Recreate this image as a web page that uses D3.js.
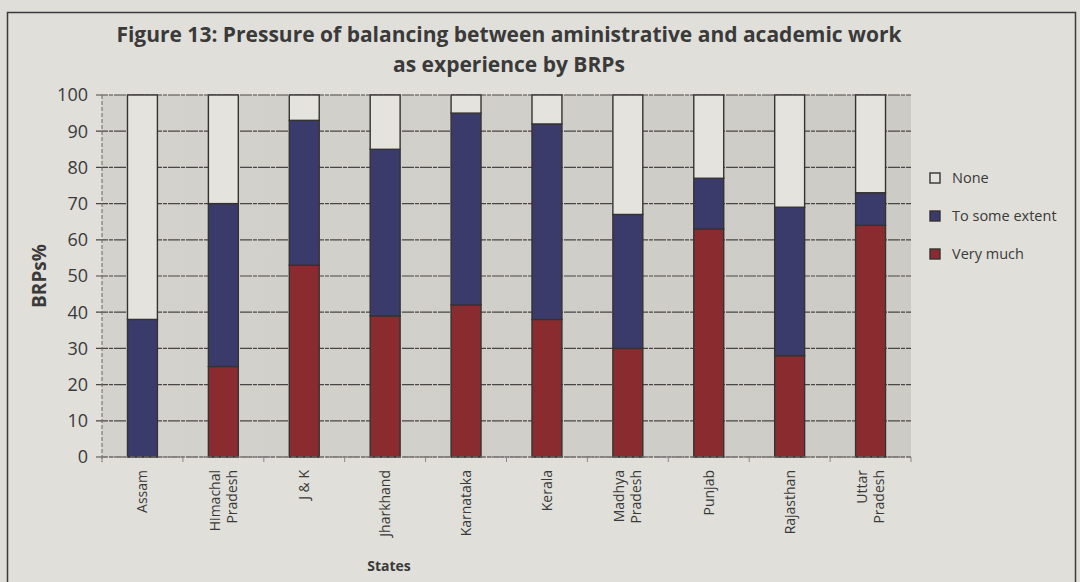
<!DOCTYPE html>
<html>
<head>
<meta charset="utf-8">
<script src="https://cdn.jsdelivr.net/npm/d3@7"></script>
<style>
  html, body { margin: 0; padding: 0; background: #dfded8; }
  svg { display: block; }
  text { font-family: "Open Sans", "Noto Sans", sans-serif; fill: #3a3a3a; }
</style>
</head>
<body>
<svg id="chart" width="1080" height="582"></svg>
<script>
// Share of BRPs (%) by state and response
const states = ["Assam", "Himachal Pradesh", "J & K", "Jharkhand", "Karnataka", "Kerala",
                "Madhya Pradesh", "Punjab", "Rajasthan", "Uttar Pradesh"];
const labelLines = [["Assam"], ["Himachal", "Pradesh"], ["J & K"], ["Jharkhand"], ["Karnataka"],
                    ["Kerala"], ["Madhya", "Pradesh"], ["Punjab"], ["Rajasthan"], ["Uttar", "Pradesh"]];
const veryMuch     = [0, 25, 53, 39, 42, 38, 30, 63, 28, 64];
const toSomeExtent = [38, 45, 40, 46, 53, 54, 37, 14, 41, 9];
const none         = [62, 30, 7, 15, 5, 8, 33, 23, 31, 27];
const seriesNames  = ["Very much", "To some extent", "None"];
const yTicks = [0, 10, 20, 30, 40, 50, 60, 70, 80, 90, 100];

const colors = { "Very much": "#8a2c2f", "To some extent": "#3b3b6b", "None": "#e4e3de" };

const svg = d3.select("#chart");

// outer frame
svg.append("rect").attr("x", 7.5).attr("y", 12.5).attr("width", 1068).attr("height", 580)
  .attr("fill", "#e0dfd9").attr("stroke", "#3c3a3a").attr("stroke-width", 1.5);

const plot = { left: 102, right: 911, top: 95, bottom: 457 };

const x = d3.scaleBand().domain(states).range([plot.left, plot.right]).paddingInner(0.63).paddingOuter(0.315);
const y = d3.scaleLinear().domain([0, 100]).range([plot.bottom, plot.top]);

// plot area background
const defs = svg.append("defs");
const bg = defs.append("linearGradient").attr("id", "bg").attr("x1", 0).attr("x2", 1).attr("y1", 0).attr("y2", 0);
bg.append("stop").attr("offset", "0%").attr("stop-color", "#d3d2cd");
bg.append("stop").attr("offset", "100%").attr("stop-color", "#cccbc6");
svg.append("rect").attr("x", plot.left).attr("y", plot.top)
  .attr("width", plot.right - plot.left).attr("height", plot.bottom - plot.top)
  .attr("fill", "url(#bg)");

// gridlines
svg.append("g").selectAll("line").data(yTicks).join("line")
  .attr("x1", plot.left - 6).attr("x2", plot.right)
  .attr("y1", d => y(d)).attr("y2", d => y(d))
  .attr("stroke", "#4a4646").attr("stroke-width", 1.2).attr("stroke-dasharray", "12,1,4,1");

// left axis line
svg.append("line").attr("x1", plot.left).attr("x2", plot.left)
  .attr("y1", plot.top).attr("y2", plot.bottom + 5)
  .attr("stroke", "#6a6666").attr("stroke-width", 1).attr("stroke-dasharray", "4,2");

// y tick labels
svg.append("g").selectAll("text").data(yTicks).join("text")
  .attr("x", 88).attr("y", d => y(d)).attr("dy", "0.35em")
  .attr("text-anchor", "end").attr("font-size", 18).text(d => d);

// stacked bars
const rows = states.map((s, i) => ({ state: s, "Very much": veryMuch[i], "To some extent": toSomeExtent[i], "None": none[i] }));
const stack = d3.stack().keys(seriesNames)(rows);
svg.append("g").selectAll("g").data(stack).join("g")
  .attr("fill", d => colors[d.key])
  .selectAll("rect").data(d => d).join("rect")
  .attr("x", d => x(d.data.state))
  .attr("width", x.bandwidth())
  .attr("y", d => y(d[1]))
  .attr("height", d => y(d[0]) - y(d[1]))
  .attr("stroke", "#353232").attr("stroke-width", 1.4);

// x axis line and ticks at category boundaries
svg.append("line").attr("x1", plot.left).attr("x2", plot.right)
  .attr("y1", plot.bottom).attr("y2", plot.bottom)
  .attr("stroke", "#7a7676").attr("stroke-width", 1).attr("stroke-dasharray", "5,2");
const step = x.step();
svg.append("g").selectAll("line").data(d3.range(states.length + 1)).join("line")
  .attr("x1", i => plot.left + i * step).attr("x2", i => plot.left + i * step)
  .attr("y1", plot.bottom).attr("y2", plot.bottom + 5)
  .attr("stroke", "#8a8686").attr("stroke-width", 1);

// category labels, rotated
const xl = svg.append("g").selectAll("text").data(states).join("text")
  .attr("transform", d => `translate(${x(d) + x.bandwidth() / 2},470) rotate(-90)`)
  .attr("text-anchor", "end").attr("font-size", 14).attr("fill", "#444");
xl.each(function (d, i) {
  const lines = labelLines[i];
  const n = lines.length;
  d3.select(this).selectAll("tspan").data(lines).join("tspan")
    .attr("x", 0).attr("dy", (l, j) => j === 0 ? `${0.35 - (n - 1) * 0.6}em` : "1.2em")
    .text(l => l);
});

// axis titles
svg.append("text").attr("transform", "translate(46,276) rotate(-90)")
  .attr("text-anchor", "middle").attr("font-size", 19).attr("font-weight", 700).text("BRPs%");
svg.append("text").attr("x", 389).attr("y", 571)
  .attr("text-anchor", "middle").attr("font-size", 14).attr("font-weight", 700).text("States");

// title
svg.append("text").attr("x", 509).attr("y", 42)
  .attr("text-anchor", "middle").attr("font-size", 21).attr("font-weight", 700)
  .text("Figure 13: Pressure of balancing between aministrative and academic work");
svg.append("text").attr("x", 509).attr("y", 72)
  .attr("text-anchor", "middle").attr("font-size", 21).attr("font-weight", 700)
  .text("as experience by BRPs");

// legend
const legendKeys = ["None", "To some extent", "Very much"];
const lg = svg.append("g").selectAll("g").data(legendKeys).join("g")
  .attr("transform", (d, i) => `translate(930,${178 + i * 38})`);
lg.append("rect").attr("x", 0).attr("y", -5).attr("width", 10).attr("height", 10)
  .attr("fill", d => colors[d]).attr("stroke", "#353232").attr("stroke-width", 1.4);
lg.append("text").attr("x", 22).attr("y", 0).attr("dy", "0.35em")
  .attr("font-size", 14.5).text(d => d);
</script>
</body>
</html>
